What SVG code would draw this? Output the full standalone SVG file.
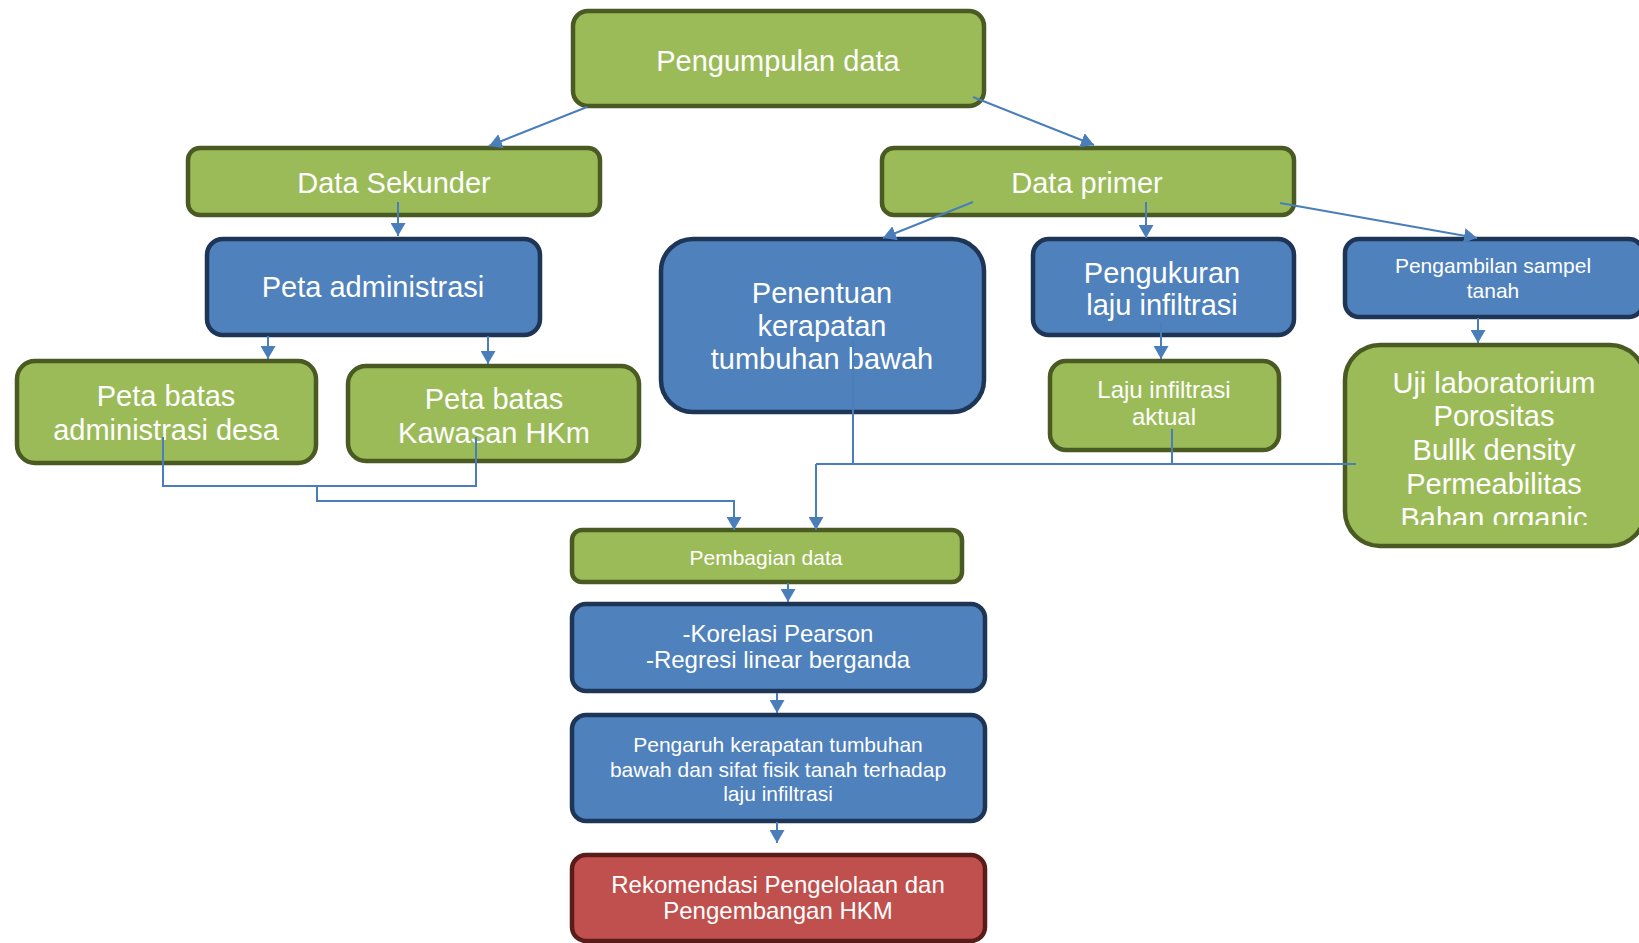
<svg xmlns="http://www.w3.org/2000/svg" width="1639" height="943" viewBox="0 0 1639 943">
<style>
.g{fill:#9bbb59;stroke:#4a5a23;stroke-width:4.5}
.b{fill:#4f81bd;stroke:#1f3556;stroke-width:4.5}
.r{fill:#c0504d;stroke:#5a1c1b;stroke-width:4.5}
text{font-family:"Liberation Sans",Arial,sans-serif;fill:#ffffff;text-anchor:middle}
.t29{font-size:29px}
.t24{font-size:24px}
.t21{font-size:21px}
.c{fill:none;stroke:#4a7ebb;stroke-width:2}
</style>
<defs>
<marker id="ah" viewBox="0 0 13 15" refX="13" refY="7.5" markerWidth="13" markerHeight="15" markerUnits="userSpaceOnUse" orient="auto">
<path d="M0,0 L13,7.5 L0,15 z" fill="#4a7ebb"/>
</marker>
<clipPath id="ujiclip"><rect x="1340" y="340" width="300" height="185"/></clipPath>
</defs>
<rect width="1639" height="943" fill="#ffffff"/>
<g id="n1"><rect class="g" x="573" y="11" width="411" height="95" rx="15"/><text class="t29" x="778" y="71">Pengumpulan data</text></g>
<g id="n2"><rect class="g" x="188" y="148" width="412" height="67" rx="12"/><text class="t29" x="394" y="193">Data Sekunder</text></g>
<g id="n3"><rect class="g" x="882" y="148" width="412" height="67" rx="12"/><text class="t29" x="1087" y="193">Data primer</text></g>
<g id="n4"><rect class="b" x="207" y="239" width="333" height="96" rx="16"/><text class="t29" x="373" y="297">Peta administrasi</text></g>
<g id="n5"><rect class="b" x="661" y="239" width="323" height="173" rx="32"/><text class="t29" x="822" y="303">Penentuan</text><text class="t29" x="822" y="336">kerapatan</text><text class="t29" x="822" y="369">tumbuhan bawah</text></g>
<g id="n6"><rect class="b" x="1033" y="239" width="261" height="96" rx="16"/><text class="t29" x="1162" y="283">Pengukuran</text><text class="t29" x="1162" y="315">laju infiltrasi</text></g>
<g id="n7"><rect class="b" x="1345" y="239" width="298" height="78" rx="14"/><text class="t21" x="1493" y="273">Pengambilan sampel</text><text class="t21" x="1493" y="298">tanah</text></g>
<g id="n8"><rect class="g" x="17" y="361" width="299" height="102" rx="18"/><text class="t29" x="166" y="406">Peta batas</text><text class="t29" x="166" y="440">administrasi desa</text></g>
<g id="n9"><rect class="g" x="348" y="366" width="291" height="95" rx="18"/><text class="t29" x="494" y="409">Peta batas</text><text class="t29" x="494" y="443">Kawasan HKm</text></g>
<g id="n10"><rect class="g" x="1050" y="361" width="229" height="89" rx="16"/><text class="t24" x="1164" y="398">Laju infiltrasi</text><text class="t24" x="1164" y="425">aktual</text></g>
<g id="n11"><rect class="g" x="1345" y="345" width="300" height="201" rx="35"/><g clip-path="url(#ujiclip)"><text class="t29" x="1494" y="393">Uji laboratorium</text><text class="t29" x="1494" y="426">Porositas</text><text class="t29" x="1494" y="460">Bullk density</text><text class="t29" x="1494" y="494">Permeabilitas</text><text class="t29" x="1494" y="528">Bahan organic</text></g></g>
<g id="n12"><rect class="g" x="572" y="530" width="390" height="52" rx="10"/><text class="t21" x="766" y="565">Pembagian data</text></g>
<g id="n13"><rect class="b" x="572" y="604" width="413" height="87" rx="14"/><text class="t24" x="778" y="642">-Korelasi Pearson</text><text class="t24" x="778" y="668">-Regresi linear berganda</text></g>
<g id="n14"><rect class="b" x="572" y="715" width="413" height="106" rx="14"/><text class="t21" x="778" y="752">Pengaruh kerapatan tumbuhan</text><text class="t21" x="778" y="777">bawah dan sifat fisik tanah terhadap</text><text class="t21" x="778" y="801">laju infiltrasi</text></g>
<g id="n15"><rect class="r" x="572" y="855" width="413" height="86" rx="14"/><text class="t24" x="778" y="893">Rekomendasi Pengelolaan dan</text><text class="t24" x="778" y="919">Pengembangan HKM</text></g>
<g id="connectors">
<path class="c" d="M587,107 L489,146" marker-end="url(#ah)"/>
<path class="c" d="M973,97 L1094,145" marker-end="url(#ah)"/>
<path class="c" d="M398,202 L398,236" marker-end="url(#ah)"/>
<path class="c" d="M268,336 L268,359" marker-end="url(#ah)"/>
<path class="c" d="M488,336 L488,364" marker-end="url(#ah)"/>
<path class="c" d="M973,202 L883,238" marker-end="url(#ah)"/>
<path class="c" d="M1146,202 L1146,238" marker-end="url(#ah)"/>
<path class="c" d="M1280,203 L1477,238" marker-end="url(#ah)"/>
<path class="c" d="M1161,322 L1161,359" marker-end="url(#ah)"/>
<path class="c" d="M1478,318 L1478,343" marker-end="url(#ah)"/>
<path class="c" d="M163,437 V486 H476 V437"/>
<path class="c" d="M317,486 V501 H734 V530" marker-end="url(#ah)"/>
<path class="c" d="M853,340 V464"/>
<path class="c" d="M1172,429 V464"/>
<path class="c" d="M816,464 H1356"/>
<path class="c" d="M816,464 V530" marker-end="url(#ah)"/>
<path class="c" d="M788,583 V602" marker-end="url(#ah)"/>
<path class="c" d="M777,693 V713" marker-end="url(#ah)"/>
<path class="c" d="M777,822 V843" marker-end="url(#ah)"/>
</g>
</svg>
